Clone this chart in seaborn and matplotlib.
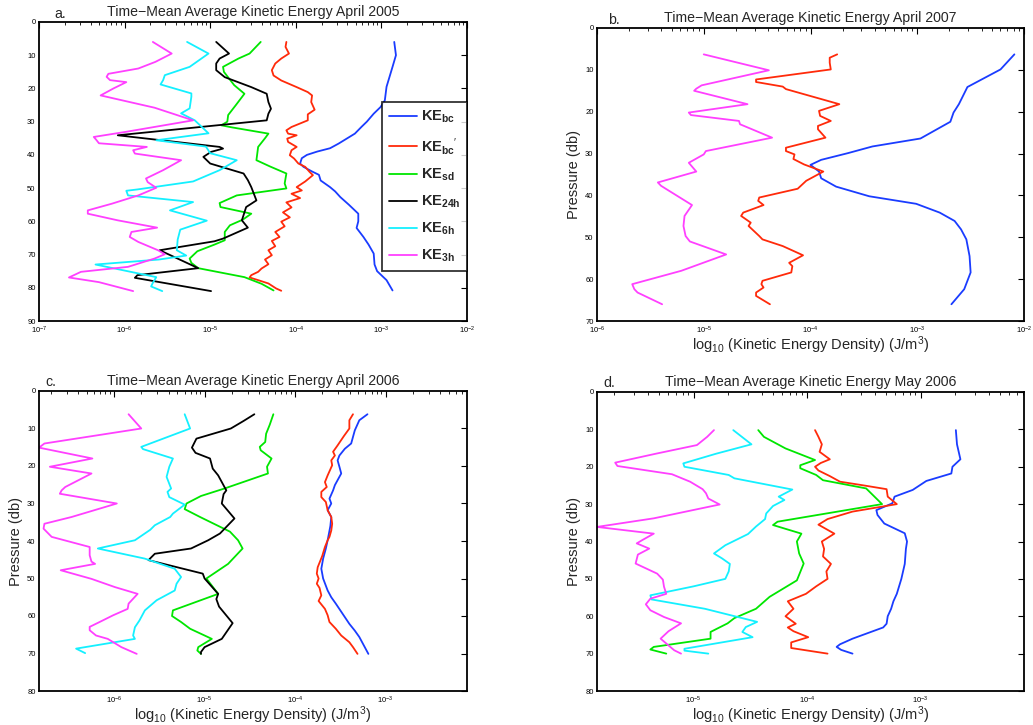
import numpy as np
import pandas as pd
import matplotlib
matplotlib.use("Agg")
import matplotlib.pyplot as plt
import seaborn as sns
from matplotlib.lines import Line2D
from matplotlib.ticker import NullLocator, MultipleLocator

# ---------------- data: pressure (db) and log10 kinetic energy density (J/m^3) ----------------
# Panel a: April 2005
a_bc_p = [6, 10, 13.5, 19.5, 23.6, 25.6, 27.6, 30, 31.5, 33.6, 36.6, 38, 39, 40, 41, 42.6, 43.6, 45, 46, 47.7,
          49.7, 51, 52.7, 55, 57.7, 60, 62, 64.7, 67, 69.7, 73, 75, 77.7, 80.8]
a_bc = [-2.85, -2.83, -2.87, -2.94, -2.96, -3.01, -3.09, -3.17, -3.23, -3.31, -3.50, -3.60, -3.75, -3.87, -3.93,
        -3.95, -3.91, -3.81, -3.73, -3.71, -3.60, -3.54, -3.48, -3.38, -3.27, -3.27, -3.29, -3.21, -3.15, -3.09,
        -3.08, -3.05, -2.94, -2.87]
a_bcp_p = [6, 7.5, 9.5, 11, 12.5, 14.5, 16.1, 17.6, 19.6, 21.1, 22.1, 24.1, 26.4, 27.8, 29.6, 31.6, 32.6, 33.6,
           34.1, 35.1, 36.1, 37.6, 38.6, 40.1, 41.1, 42.6, 43.6, 45.1, 46.1, 48, 49.7, 50.7, 51.7, 53, 54.3, 55.8,
           57.3, 58.8, 60.1, 61.5, 63.2, 64.7, 65.9, 67.5, 68.7, 70.2, 71.5, 72.9, 74.2, 75.2, 76.2, 76.9, 77.7,
           78.7, 80.2, 80.9]
a_bcp = [-4.11, -4.12, -4.08, -4.17, -4.24, -4.28, -4.26, -4.17, -3.99, -3.86, -3.81, -3.82, -3.78, -3.86, -3.86,
         -4.05, -4.11, -4.09, -3.99, -4.10, -4.09, -3.99, -4.05, -4.07, -4.02, -3.97, -3.89, -3.84, -3.80, -3.89,
         -3.99, -3.93, -4.05, -3.95, -4.11, -4.05, -4.15, -4.07, -4.17, -4.13, -4.24, -4.19, -4.28, -4.24, -4.32,
         -4.28, -4.36, -4.32, -4.40, -4.44, -4.52, -4.54, -4.44, -4.32, -4.23, -4.17]
a_sd_p = [6, 9.5, 11, 13.5, 15, 19, 21.6, 25, 28, 30, 31.1, 31.7, 33.6, 35, 37.6, 41.6, 43.5, 45.6, 48.6, 50.1,
          52.2, 54.5, 55.7, 57.7, 59.5, 61.2, 63.2, 65.7, 67, 69, 71.2, 72.5, 74.1, 76.8, 78.8, 80.8]
a_sd = [-4.41, -4.54, -4.67, -4.85, -4.84, -4.72, -4.60, -4.70, -4.79, -4.80, -4.87, -4.75, -4.32, -4.36, -4.44,
        -4.46, -4.30, -4.11, -4.13, -4.11, -4.69, -4.89, -4.88, -4.52, -4.62, -4.77, -4.83, -4.83, -4.95, -5.15,
        -5.24, -5.22, -5.14, -4.60, -4.40, -4.26]
a_24h_p = [6, 9.5, 11, 12.5, 14.5, 16.6, 19.6, 21.6, 24.1, 26.1, 27.6, 29.6, 34.1, 37.6, 38.1, 39.1, 40.6, 42.6,
           45.6, 47.6, 49.7, 53.7, 55.7, 59.7, 61.9, 65.2, 66, 68.7, 74.1, 76.2, 77.0, 81]
a_24h = [-4.93, -4.78, -4.89, -4.93, -4.93, -4.83, -4.52, -4.34, -4.32, -4.29, -4.32, -4.34, -6.08, -4.89, -4.85,
         -4.99, -5.08, -5.00, -4.61, -4.56, -4.52, -4.46, -4.58, -4.63, -4.56, -4.85, -4.95, -5.59, -5.14, -5.85,
         -5.88, -4.99]
a_6h_p = [6, 9.5, 13.5, 16, 17.5, 18.8, 21.5, 22.5, 26, 27.5, 29.6, 33.5, 35.6, 37.5, 39.5, 41.6, 44.6, 48, 50.4,
          50.8, 52.2, 54.2, 56.7, 59.8, 62.5, 65.5, 68.7, 70.3, 71.5, 73, 76.8, 78.5, 79.6, 81]
a_6h = [-5.27, -5.02, -5.24, -5.53, -5.55, -5.58, -5.22, -5.22, -5.24, -5.34, -5.18, -5.02, -5.63, -5.05, -5.00,
        -4.69, -4.89, -5.20, -5.85, -5.98, -5.96, -5.20, -5.47, -5.04, -5.35, -5.38, -5.39, -5.28, -5.60, -6.34,
        -5.63, -5.67, -5.69, -5.56]
a_3h_p = [6, 9.5, 12, 14, 15.6, 16.5, 17.5, 18.1, 20, 22.1, 25.8, 29.6, 33, 34.6, 35.5, 36.5, 37.6, 38.6, 39.6,
          41.6, 44.6, 47.1, 48.2, 49.9, 52.2, 54.7, 56.7, 57.7, 59.7, 61.9, 63.2, 64.7, 66.2, 68.7, 69.9, 71.2,
          73.7, 75.2, 76.9, 78.3, 81]
a_3h = [-5.67, -5.45, -5.64, -5.84, -6.19, -6.21, -6.17, -5.98, -6.13, -6.28, -5.65, -5.20, -5.97, -6.36, -6.33,
        -6.30, -5.74, -5.90, -5.88, -5.34, -5.55, -5.75, -5.73, -5.63, -5.84, -6.15, -6.43, -6.43, -6.08, -5.62,
        -5.92, -5.94, -5.84, -5.61, -5.53, -5.65, -5.96, -6.51, -6.65, -6.30, -5.90]

# Panel b: April 2007
b_bc_p = [6.3, 9.9, 14.1, 18.2, 20.2, 22.4, 26.4, 28.3, 29.9, 31.5, 32.7, 34.3, 35.9, 37.9, 40.2, 42.0, 44.1,
          46.1, 48.1, 50.5, 54.5, 58.4, 60.4, 62.4, 66]
b_bc = [-2.09, -2.22, -2.53, -2.61, -2.66, -2.69, -2.97, -3.42, -3.65, -3.90, -4.00, -3.92, -3.90, -3.76, -3.45,
        -3.01, -2.79, -2.65, -2.59, -2.54, -2.51, -2.50, -2.53, -2.56, -2.68]
b_bcp_p = [6.3, 7.1, 8.3, 9.9, 12.3, 12.9, 14.0, 14.6, 18.2, 19.8, 21.0, 22.2, 23.4, 24.2, 26.2, 28.6, 29.4, 30.2,
           31.3, 32.6, 34.3, 36.5, 38.4, 40.5, 41.3, 42.3, 44.1, 44.9, 46.5, 47.3, 49.7, 50.5, 52.1, 54.3, 56.1,
           56.9, 58.4, 60.4, 61.2, 62.0, 63.2, 64.0, 66.0]
b_bcp = [-3.75, -3.82, -3.82, -3.81, -4.51, -4.51, -4.26, -4.23, -3.73, -3.92, -3.91, -3.81, -3.93, -3.93, -3.86,
         -4.23, -4.23, -4.15, -4.16, -4.06, -3.88, -4.04, -4.12, -4.48, -4.49, -4.44, -4.63, -4.65, -4.56, -4.58,
         -4.48, -4.45, -4.26, -4.07, -4.20, -4.17, -4.18, -4.45, -4.46, -4.44, -4.51, -4.51, -4.38]
b_3h_p = [6.3, 10.1, 13.7, 14.5, 15.0, 18.2, 20.2, 20.8, 22.2, 23.0, 26.2, 29.4, 30.2, 32.2, 34.3, 36.9, 37.7,
          38.5, 42.3, 44.9, 47.3, 49.7, 51, 54.1, 58, 61.2, 62.4, 63.2, 66]
b_3h = [-5.00, -4.39, -5.02, -5.07, -5.09, -4.59, -5.14, -5.12, -4.67, -4.66, -4.36, -4.98, -5.00, -5.14, -5.07,
        -5.43, -5.40, -5.35, -5.11, -5.18, -5.19, -5.17, -5.13, -4.79, -5.21, -5.67, -5.65, -5.62, -5.39]

# Panel c: April 2006
c_bc_p = [6.2, 7.8, 10.5, 14, 15.4, 17.2, 18.5, 20.2, 22, 25.1, 26.5, 28.7, 30, 31.8, 33.6, 36, 39.8, 42, 44.7,
          47.4, 50, 53.2, 55.0, 56.7, 60.3, 62.1, 63.9, 65.6, 67.4, 69.2, 70.1]
c_bc = [-3.20, -3.29, -3.34, -3.38, -3.45, -3.51, -3.53, -3.51, -3.49, -3.56, -3.58, -3.62, -3.60, -3.64, -3.60,
        -3.61, -3.64, -3.66, -3.69, -3.71, -3.69, -3.64, -3.60, -3.55, -3.45, -3.40, -3.34, -3.29, -3.25, -3.21,
        -3.19]
c_bcp_p = [6.2, 7.8, 10, 12, 14.5, 16.2, 17.2, 18.5, 19.8, 22.5, 24.3, 25.6, 26.9, 28.3, 29.6, 31.8, 33.6, 35.4,
           37.2, 38.9, 39.8, 41.6, 44, 47.0, 48.7, 50.0, 51.4, 52.5, 54.5, 56, 58.1, 59.8, 61.6, 63.4, 65.2, 67,
           68.3, 70.1]
c_bcp = [-3.36, -3.40, -3.40, -3.46, -3.53, -3.58, -3.56, -3.60, -3.59, -3.64, -3.67, -3.65, -3.71, -3.71, -3.66,
         -3.64, -3.60, -3.59, -3.60, -3.62, -3.64, -3.67, -3.70, -3.75, -3.76, -3.74, -3.76, -3.73, -3.71, -3.74,
         -3.67, -3.64, -3.62, -3.55, -3.49, -3.40, -3.36, -3.31]
c_sd_p = [6.2, 9, 11.4, 13.6, 14.9, 15.8, 18.0, 20.2, 22.0, 24, 26, 28, 30.0, 31.5, 33.6, 37.5, 39.8, 42.0, 46.1,
          50.0, 54.1, 58.5, 60.0, 61.6, 63.4, 66.1, 68.3, 69.2, 70.1]
c_sd = [-4.24, -4.28, -4.32, -4.33, -4.39, -4.38, -4.26, -4.31, -4.30, -4.54, -4.78, -5.04, -5.20, -5.22, -5.05,
        -4.72, -4.63, -4.58, -4.74, -4.98, -4.85, -5.35, -5.36, -5.26, -5.16, -4.92, -5.07, -5.08, -5.04]
c_24h_p = [6.2, 8, 10, 12.7, 15.1, 16.5, 18.0, 20.7, 22.5, 26.5, 27.5, 30.0, 34.0, 38.0, 39.8, 42.0, 43.4, 45.1,
           48.7, 50.0, 54.1, 55.5, 57.5, 61.9, 66.1, 68.3, 69.6, 70.1]
c_24h = [-4.45, -4.57, -4.71, -5.09, -5.14, -5.10, -4.94, -4.91, -4.85, -4.76, -4.79, -4.81, -4.67, -4.83, -4.96,
         -5.15, -5.55, -5.62, -5.02, -5.00, -4.85, -4.87, -4.84, -4.69, -4.81, -5.00, -5.04, -5.04]
c_6h_p = [6.2, 10, 14.9, 15.5, 18.0, 20.2, 22.9, 26.0, 26.9, 28.3, 30.3, 32.7, 33.6, 35.8, 37, 39.8, 42.0, 44.7,
          47.4, 49.6, 51.4, 53.2, 55.8, 58.5, 61.2, 63.0, 65.2, 66.1, 68.7, 69.9]
c_6h = [-5.22, -5.16, -5.70, -5.68, -5.35, -5.39, -5.42, -5.37, -5.41, -5.39, -5.22, -5.35, -5.38, -5.55, -5.60,
        -5.77, -6.18, -5.66, -5.33, -5.26, -5.31, -5.33, -5.53, -5.66, -5.72, -5.77, -5.79, -5.77, -6.42, -6.32]
c_3h_p = [6.2, 10, 14, 15.1, 18.0, 20.2, 22.0, 25.6, 26.5, 27.4, 30.0, 33.6, 35.4, 36.7, 38.9, 41.6, 43.8, 45.5,
          46.1, 47.8, 50.1, 52.3, 54.1, 55.4, 56.7, 58.1, 59.8, 61.6, 62.9, 63.8, 65.2, 66.1, 68.3, 70.1]
c_3h = [-5.84, -5.70, -6.77, -6.83, -6.24, -6.71, -6.25, -6.54, -6.58, -6.60, -5.97, -6.47, -6.77, -6.78, -6.69,
        -6.27, -6.27, -6.25, -6.21, -6.59, -6.25, -5.99, -5.74, -5.79, -5.84, -5.85, -6.01, -6.16, -6.27, -6.27,
        -6.20, -6.07, -5.92, -5.75]

# Panel d: May 2006
d_bc_p = [10.2, 14, 18, 20, 21.8, 23.8, 26.2, 28, 29.8, 31.6, 32.9, 35.2, 37.8, 40, 42, 46, 50, 54, 56, 58, 60,
          62, 63, 64, 66, 67.5, 68.2, 69, 70]
d_bc = [-2.69, -2.68, -2.65, -2.72, -2.73, -2.95, -3.07, -3.23, -3.25, -3.39, -3.38, -3.32, -3.14, -3.12, -3.13,
        -3.14, -3.17, -3.21, -3.24, -3.26, -3.29, -3.30, -3.33, -3.42, -3.60, -3.71, -3.74, -3.70, -3.60]
d_bcp_p = [10.2, 12, 14, 16, 18, 19, 20, 21, 22.5, 24, 25, 26, 28, 30, 32, 34, 35.5, 37.9, 40, 42, 44, 46, 48, 50,
           52, 54, 56, 57.2, 58, 60, 62, 63, 64, 65.6, 67, 68.5, 70]
d_bcp = [-3.93, -3.90, -3.87, -3.89, -3.80, -3.88, -3.93, -3.90, -3.80, -3.71, -3.50, -3.30, -3.29, -3.21, -3.60,
         -3.82, -3.90, -3.76, -3.87, -3.85, -3.86, -3.79, -3.83, -3.82, -3.92, -4.01, -4.17, -4.14, -4.12, -4.19,
         -4.10, -4.17, -4.12, -3.99, -4.14, -4.14, -3.82]
d_sd_p = [10.2, 12, 15.1, 18.2, 19.6, 20.4, 22.2, 23.6, 25.8, 30, 34.7, 35.6, 37.9, 40, 43.2, 45.9, 50.4, 54.8,
          58, 60.5, 61.9, 64.2, 66, 68.2, 68.9, 70]
d_sd = [-4.43, -4.38, -4.19, -3.93, -4.06, -4.06, -3.92, -3.86, -3.48, -3.34, -4.26, -4.30, -4.05, -4.09, -4.07,
        -4.03, -4.09, -4.33, -4.45, -4.64, -4.70, -4.85, -4.85, -5.35, -5.38, -5.24]
d_6h_p = [10.2, 14, 16.5, 19.1, 20, 22.2, 23.1, 26.1, 28, 28.9, 30.5, 32.5, 34, 36, 38, 41, 43.2, 44.5, 46, 48,
          50, 52, 54.4, 55.5, 58, 61.5, 62.9, 64.2, 65.6, 68.7, 69.2, 70]
d_6h = [-4.65, -4.49, -4.80, -5.09, -5.08, -4.69, -4.64, -4.13, -4.25, -4.20, -4.30, -4.36, -4.37, -4.45, -4.52,
        -4.72, -4.82, -4.75, -4.68, -4.69, -4.72, -5.00, -5.38, -5.37, -4.90, -4.44, -4.54, -4.57, -4.48, -5.08,
        -5.08, -4.87]
d_3h_p = [10.2, 12, 14.2, 16.5, 18.9, 19.8, 22.0, 24, 26, 27.1, 28.5, 30.1, 33.8, 36.1, 37.9, 39.6, 40.5, 41.9,
          43.5, 45.9, 48.6, 50.2, 52.1, 54.0, 55.3, 56.8, 58.4, 60.2, 61.9, 64, 66, 69.1, 70]
d_3h = [-4.82, -4.88, -4.97, -5.33, -5.69, -5.67, -5.19, -5.03, -4.92, -4.89, -4.87, -4.77, -5.35, -5.85, -5.35,
        -5.45, -5.50, -5.39, -5.49, -5.51, -5.32, -5.27, -5.26, -5.24, -5.38, -5.42, -5.38, -5.26, -5.11, -5.22,
        -5.29, -5.17, -5.11]

series_order = ["bc", "bcp", "sd", "24h", "6h", "3h"]
legend_labels = [r"$\mathbf{KE_{bc}}$", r"$\mathbf{KE_{bc}}^{\prime}$", r"$\mathbf{KE_{sd}}$",
                 r"$\mathbf{KE_{24h}}$", r"$\mathbf{KE_{6h}}$", r"$\mathbf{KE_{3h}}$"]
titles = ["Time\u2212Mean Average Kinetic Energy April 2005", "Time\u2212Mean Average Kinetic Energy April 2007",
          "Time\u2212Mean Average Kinetic Energy April 2006", "Time\u2212Mean Average Kinetic Energy May 2006"]
panel_letters = ["a.", "b.", "c.", "d."]

colors = {"bc": "#1a3cff", "bcp": "#ff2a0a", "sd": "#00e600", "24h": "#000000", "6h": "#14f0ff", "3h": "#ff40ff"}

panels = [
    {"bc": (a_bc_p, a_bc), "bcp": (a_bcp_p, a_bcp), "sd": (a_sd_p, a_sd), "24h": (a_24h_p, a_24h),
     "6h": (a_6h_p, a_6h), "3h": (a_3h_p, a_3h)},
    {"bc": (b_bc_p, b_bc), "bcp": (b_bcp_p, b_bcp), "3h": (b_3h_p, b_3h)},
    {"bc": (c_bc_p, c_bc), "bcp": (c_bcp_p, c_bcp), "sd": (c_sd_p, c_sd), "24h": (c_24h_p, c_24h),
     "6h": (c_6h_p, c_6h), "3h": (c_3h_p, c_3h)},
    {"bc": (d_bc_p, d_bc), "bcp": (d_bcp_p, d_bcp), "sd": (d_sd_p, d_sd), "6h": (d_6h_p, d_6h),
     "3h": (d_3h_p, d_3h)},
]

# ---------------- style ----------------
sns.set_theme(style="white")
plt.rcParams["font.family"] = ["Liberation Sans", "DejaVu Sans"]
plt.rcParams["mathtext.fontset"] = "custom"
plt.rcParams["mathtext.rm"] = "Liberation Sans"
plt.rcParams["mathtext.it"] = "Liberation Sans:italic"
plt.rcParams["mathtext.bf"] = "Liberation Sans:bold"
plt.rcParams["axes.edgecolor"] = "black"

W, H = 1033, 725
fig = plt.figure(figsize=(W / 100, H / 100), dpi=100)

def box(l, r, t, b):
    return [l / W, 1 - b / H, (r - l) / W, (b - t) / H]

rects = [box(39, 467, 22, 321), box(597, 1024, 28, 321), box(39, 467, 391, 691), box(597, 1024, 392, 691)]
xlims = [(1e-7, 1e-2), (1e-6, 1e-2), (10 ** -6.83, 10 ** -2.10), (10 ** -5.85, 10 ** -2.09)]
ylims = [(90, 0), (70, 0), (80, 0), (80, 0)]
letter_x = [0.037, 0.026, 0.014, 0.014]
xlabel_y = [None, -0.045, -0.046, -0.046]

for i in range(4):
    ax = fig.add_axes(rects[i])
    ax.set_xscale("log")
    frames = []
    for key in series_order:
        if key in panels[i]:
            p, L = panels[i][key]
            frames.append(pd.DataFrame({"pressure": p, "ke": 10.0 ** np.asarray(L), "series": key}))
    data = pd.concat(frames, ignore_index=True)
    order = [k for k in series_order if k in panels[i]]
    sns.lineplot(data=data, x="ke", y="pressure", hue="series", hue_order=order, palette=colors,
                 estimator=None, sort=False, orient="y", linewidth=1.3, legend=False, ax=ax)
    ax.set_xlim(*xlims[i])
    ax.set_ylim(*ylims[i])
    ax.yaxis.set_major_locator(MultipleLocator(10))
    ax.yaxis.set_minor_locator(NullLocator())
    ax.tick_params(which="both", direction="in", top=True, right=True, labelsize=5.5, pad=2.5, colors="black")
    ax.tick_params(which="major", length=4, width=0.8)
    ax.tick_params(which="minor", length=2, width=0.6)
    for s in ax.spines.values():
        s.set_linewidth(1.3)
        s.set_color("black")
    ax.set_xlabel("")
    ax.set_ylabel("")
    ax.set_title(titles[i], fontsize=10.2, pad=4)
    ax.text(letter_x[i], 1.0 + 4.5 / (rects[i][3] * H), panel_letters[i], transform=ax.transAxes,
            fontsize=10.2, va="baseline", ha="left")
    if i > 0:
        ax.set_ylabel("Pressure (db)", fontsize=10.5)
        ax.yaxis.set_label_coords(-0.038, 0.5)
        ax.set_xlabel(r"log$_{10}$ (Kinetic Energy Density) (J/m$^3$)", fontsize=10.5)
        ax.xaxis.set_label_coords(0.5, xlabel_y[i])
    if i == 0:
        handles = [Line2D([], [], color=colors[k], linewidth=1.3) for k in series_order]
        leg = ax.legend(handles, legend_labels, loc="upper right", bbox_to_anchor=(1.0, 0.732),
                        fontsize=10.5, frameon=True, fancybox=False, edgecolor="black",
                        handlelength=1.9, handletextpad=0.3, labelspacing=0.72, borderpad=0.45,
                        borderaxespad=0.0)
        leg.get_frame().set_linewidth(1.3)

fig.savefig("out.png", dpi=100)
